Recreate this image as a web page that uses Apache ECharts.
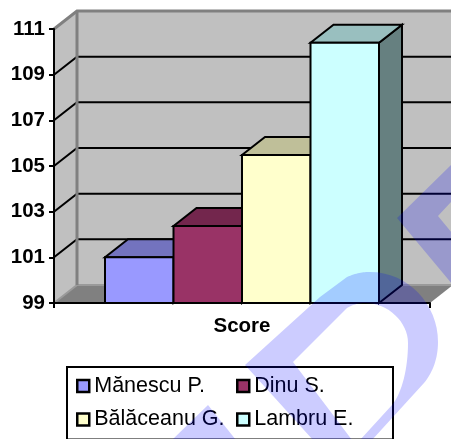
<!DOCTYPE html>
<html>
<head>
<meta charset="utf-8">
<style>html,body{margin:0;padding:0;background:#fff;overflow:hidden}#chart{width:451px;height:439px}</style>
<script src="https://cdn.jsdelivr.net/npm/echarts@6/dist/echarts.min.js"></script>
</head>
<body>
<div id="chart"></div>
<script>
// Competitors and their scores
const categoryLabels = ['Score'];
const competitors = ['Mănescu P.', 'Dinu S.', 'Bălăceanu G.', 'Lambru E.'];
const scores = [101, 102.37, 105.48, 110.4];
const barColors = ['#9999FF', '#993366', '#FFFFCC', '#CCFFFF'];
const topColors = ['#7373BF', '#73264D', '#BFBF99', '#99BFBF'];
const sideColors = ['#4D4D80', '#4D1A33', '#808066', '#668080'];
const yTicks = [99, 101, 103, 105, 107, 109, 111];

// Pseudo-3D extrusion of the plot box, in pixels
const DEPTH_X = 23;
const DEPTH_Y = 18;
const BAR_SHARE = 68.5 / 376;
const FONT = '"Liberation Sans", Arial, sans-serif';

function poly(points, fill, stroke, width) {
  return {
    type: 'polygon',
    shape: { points: points },
    style: { fill: fill, stroke: stroke || null, lineWidth: width || 0, lineJoin: 'miter' }
  };
}
function line(points, stroke, width) {
  return {
    type: 'polyline',
    shape: { points: points },
    style: { fill: null, stroke: stroke, lineWidth: width, lineJoin: 'miter' }
  };
}

// Side wall, back wall, floor and gridlines
function renderWalls(params, api) {
  const value = api.value(0);
  const centre = api.coord([categoryLabels[0], value]);
  const band = api.size([1, 0])[0];
  const left = centre[0] - band / 2;
  const right = left + band;
  const y = centre[1];
  const children = [];
  if (value === yTicks[0]) {
    const top = api.coord([categoryLabels[0], yTicks[yTicks.length - 1]])[1];
    children.push(poly([[left, top], [left + DEPTH_X, top - DEPTH_Y], [right + DEPTH_X, top - DEPTH_Y],
      [right + DEPTH_X, y - DEPTH_Y], [left + DEPTH_X, y - DEPTH_Y], [left, y]], '#C0C0C0'));
    children.push(poly([[left, y], [left + DEPTH_X, y - DEPTH_Y], [right + DEPTH_X, y - DEPTH_Y], [right, y]], '#808080'));
    children.push(line([[left, y], [left + DEPTH_X, y - DEPTH_Y], [right + DEPTH_X, y - DEPTH_Y]], '#9A9A9A', 2));
  } else if (value === yTicks[yTicks.length - 1]) {
    const floor = api.coord([categoryLabels[0], yTicks[0]])[1];
    children.push(line([[left, y], [left + DEPTH_X, y - DEPTH_Y], [right + DEPTH_X, y - DEPTH_Y]], '#808080', 3));
    children.push(line([[left + DEPTH_X, y - DEPTH_Y], [left + DEPTH_X, floor - DEPTH_Y]], '#808080', 3));
  } else {
    children.push(line([[left, y], [left + DEPTH_X, y - DEPTH_Y], [right + DEPTH_X, y - DEPTH_Y]], '#000', 2));
  }
  return { type: 'group', children: children };
}

// One extruded column per competitor
function barRenderer(index) {
  return function (params, api) {
    const top = api.coord([api.value(0), api.value(1)]);
    const base = api.coord([api.value(0), yTicks[0]]);
    const band = api.size([1, 0])[0];
    const w = band * BAR_SHARE;
    const x0 = top[0] - 2 * w + index * w;
    const x1 = x0 + w;
    const t = top[1];
    const b = base[1];
    return {
      type: 'group',
      children: [
        poly([[x1, t], [x1 + DEPTH_X, t - DEPTH_Y], [x1 + DEPTH_X, b - DEPTH_Y], [x1, b]], sideColors[index], '#000', 2),
        poly([[x0, t], [x0 + DEPTH_X, t - DEPTH_Y], [x1 + DEPTH_X, t - DEPTH_Y], [x1, t]], topColors[index], '#000', 2),
        poly([[x0, t], [x1, t], [x1, b], [x0, b]], barColors[index], '#000', 2)
      ]
    };
  };
}

// Cubic Bezier flattened to a polyline
function curve(p0, p1, p2, p3) {
  const out = [];
  for (let i = 1; i <= 16; i++) {
    const s = i / 16, r = 1 - s;
    out.push([
      r * r * r * p0[0] + 3 * r * r * s * p1[0] + 3 * r * s * s * p2[0] + s * s * s * p3[0],
      r * r * r * p0[1] + 3 * r * r * s * p1[1] + 3 * r * s * s * p2[1] + s * s * s * p3[1]
    ]);
  }
  return out;
}

// Translucent stamp lying over the whole chart
const stampLetter = [[245, 365], [320, 297], [347, 277]]
  .concat(curve([347, 277], [356, 273], [363, 272], [370, 272]))
  .concat(curve([370, 272], [408, 272], [438, 304], [438, 342]))
  .concat(curve([438, 342], [438, 358], [433, 372], [424, 383]))
  .concat([[372, 440], [360, 440], [392, 405]])
  .concat(curve([392, 405], [402, 393], [408, 368], [408, 343]))
  .concat(curve([408, 343], [408, 322], [388, 303], [365, 303]))
  .concat(curve([365, 303], [358, 303], [352, 305], [347, 308]))
  .concat([[293, 362], [352, 440], [313, 440]]);
const stampRight = [[397, 218], [452, 164], [452, 201], [438, 216], [452, 233], [452, 284]];
const stampLeft = [[208, 405], [236, 440], [172, 440]];
const STAMP = 'rgba(0,0,255,0.2)';

const series = [{
  type: 'custom',
  name: 'walls',
  data: yTicks,
  encode: { y: 0 },
  clip: false,
  silent: true,
  z: 1,
  renderItem: renderWalls
}];
competitors.forEach(function (name, i) {
  series.push({
    type: 'custom',
    name: name,
    data: [[categoryLabels[0], scores[i]]],
    encode: { x: 0, y: 1 },
    clip: false,
    z: 2 + i,
    itemStyle: { color: barColors[i] },
    renderItem: barRenderer(i)
  });
});

function legendColumn(names, left) {
  return {
    orient: 'vertical',
    left: left,
    top: 370,
    data: names,
    icon: 'rect',
    itemWidth: 12,
    itemHeight: 12,
    itemGap: 11.5,
    selectedMode: false,
    itemStyle: { borderColor: '#000', borderWidth: 2.5 },
    textStyle: { fontFamily: FONT, fontSize: 21.5, color: '#000', lineHeight: 22 }
  };
}

const chart = echarts.init(document.getElementById('chart'), null, { renderer: 'canvas' });
chart.setOption({
  animation: false,
  backgroundColor: '#fff',
  grid: { left: 54, right: 21, top: 29, bottom: 136 },
  xAxis: {
    type: 'category',
    data: categoryLabels,
    z: 10,
    axisLine: { lineStyle: { color: '#000', width: 2 } },
    axisTick: { show: true, length: 5, lineStyle: { color: '#000', width: 2 } },
    axisLabel: { fontFamily: FONT, fontSize: 20.5, fontWeight: 'bold', color: '#000', margin: 13 }
  },
  yAxis: {
    type: 'value',
    min: 99,
    max: 111,
    interval: 2,
    z: 10,
    splitLine: { show: false },
    axisLine: { show: true, lineStyle: { color: '#000', width: 2 } },
    axisTick: { show: true, length: 5, lineStyle: { color: '#000', width: 2 } },
    axisLabel: { fontFamily: FONT, fontSize: 20.5, fontWeight: 'bold', color: '#000', margin: 9 }
  },
  legend: [
    legendColumn([competitors[0], competitors[2]], 71),
    legendColumn([competitors[1], competitors[3]], 231)
  ],
  series: series,
  graphic: {
    z: 100,
    elements: [
      { type: 'rect', z: 1, shape: { x: 67, y: 367, width: 326, height: 72.5 }, style: { fill: null, stroke: '#000', lineWidth: 2 } },
      { type: 'polygon', z: 100, silent: true, shape: { points: stampLetter }, style: { fill: STAMP } },
      { type: 'polygon', z: 100, silent: true, shape: { points: stampRight }, style: { fill: STAMP } },
      { type: 'polygon', z: 100, silent: true, shape: { points: stampLeft }, style: { fill: STAMP } }
    ]
  }
});
</script>
</body>
</html>
